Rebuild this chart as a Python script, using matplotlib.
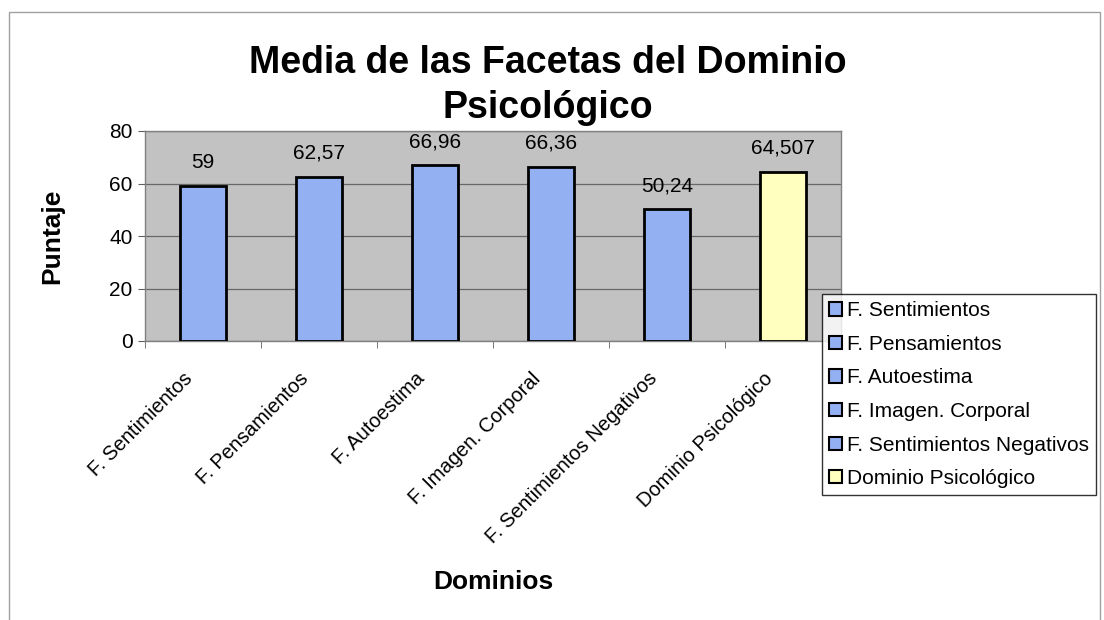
import matplotlib
matplotlib.use("Agg")
import matplotlib.pyplot as plt
import matplotlib.transforms as mtransforms
from matplotlib.patches import Patch, Rectangle

plt.rcParams['font.family'] = ['Liberation Sans', 'DejaVu Sans']

# ------------------ Data ------------------
categorias = ["F. Sentimientos", "F. Pensamientos", "F. Autoestima",
              "F. Imagen. Corporal", "F. Sentimientos Negativos", "Dominio Psicológico"]
valores = [59, 62.57, 66.96, 66.36, 50.24, 64.507]
etiquetas = ["59", "62,57", "66,96", "66,36", "50,24", "64,507"]
colores = ["#93b1f2", "#93b1f2", "#93b1f2", "#93b1f2", "#93b1f2", "#ffffc0"]

# ------------------ Figure ------------------
W, H = 1104, 620
fig = plt.figure(figsize=(W / 100, H / 100), dpi=100)
fig.patch.set_facecolor("white")

# outer chart frame
fig.patches.append(Rectangle((9 / W, -0.01), 1091 / W, 1 - 12 / H + 0.01,
                             transform=fig.transFigure, fill=False,
                             edgecolor="#a0a0a0", linewidth=1))

ax = fig.add_axes([145 / W, 1 - 341 / H, 696 / W, 210 / H])
ax.set_facecolor("#c2c2c2")

x = range(len(categorias))
bars = ax.bar(x, valores, width=0.4, color=colores, edgecolor="black",
              linewidth=2, zorder=3)

for b, lab in zip(bars, etiquetas):
    ax.annotate(lab, (b.get_x() + b.get_width() / 2, b.get_height()),
                xytext=(0, 17), textcoords="offset points",
                ha="center", va="center", fontsize=15)

ax.set_xlim(-0.5, len(categorias) - 0.5)
ax.set_ylim(0, 80)
ax.set_yticks([0, 20, 40, 60, 80])
ax.yaxis.grid(True, color="#686868", linewidth=0.9, zorder=0)
ax.tick_params(axis="y", labelsize=15, length=5, color="#606060", pad=4)

ax.set_xticks(list(x))
ax.set_xticklabels(categorias, rotation=45, ha="right", rotation_mode="anchor",
                   fontsize=14.5)
ax.tick_params(axis="x", length=0, pad=20)
shift = mtransforms.ScaledTranslation(-20 / 100, 0, fig.dpi_scale_trans)
for t in ax.get_xticklabels():
    t.set_transform(t.get_transform() + shift)
ax.set_xticks([i - 0.5 for i in range(len(categorias) + 1)], minor=True)
ax.tick_params(axis="x", which="minor", length=5, color="#606060")

for s in ax.spines.values():
    s.set_color("#808080")
    s.set_linewidth(1)

fig.text(548 / W, 1 - 63 / H, "Media de las Facetas del Dominio",
         ha="center", va="center", fontsize=27, fontweight="bold")
fig.text(548 / W, 1 - 108 / H, "Psicológico",
         ha="center", va="center", fontsize=27, fontweight="bold")
fig.text(52 / W, 1 - 236 / H, "Puntaje", rotation=90,
         ha="center", va="center", fontsize=19, fontweight="bold")
fig.text(493 / W, 1 - 582 / H, "Dominios",
         ha="center", va="center", fontsize=19, fontweight="bold")

handles = [Patch(facecolor=c, edgecolor="black", linewidth=1.5) for c in colores]
leg = fig.legend(handles, categorias, loc="upper left",
                 bbox_to_anchor=(822 / W, 1 - 294 / H),
                 fontsize=15, frameon=True, fancybox=False,
                 edgecolor="black", handlelength=0.6, handleheight=0.6,
                 handletextpad=0.25, labelspacing=0.7, borderpad=0.35,
                 borderaxespad=0)
leg.get_frame().set_linewidth(1)

plt.savefig("out.png", dpi=100)
